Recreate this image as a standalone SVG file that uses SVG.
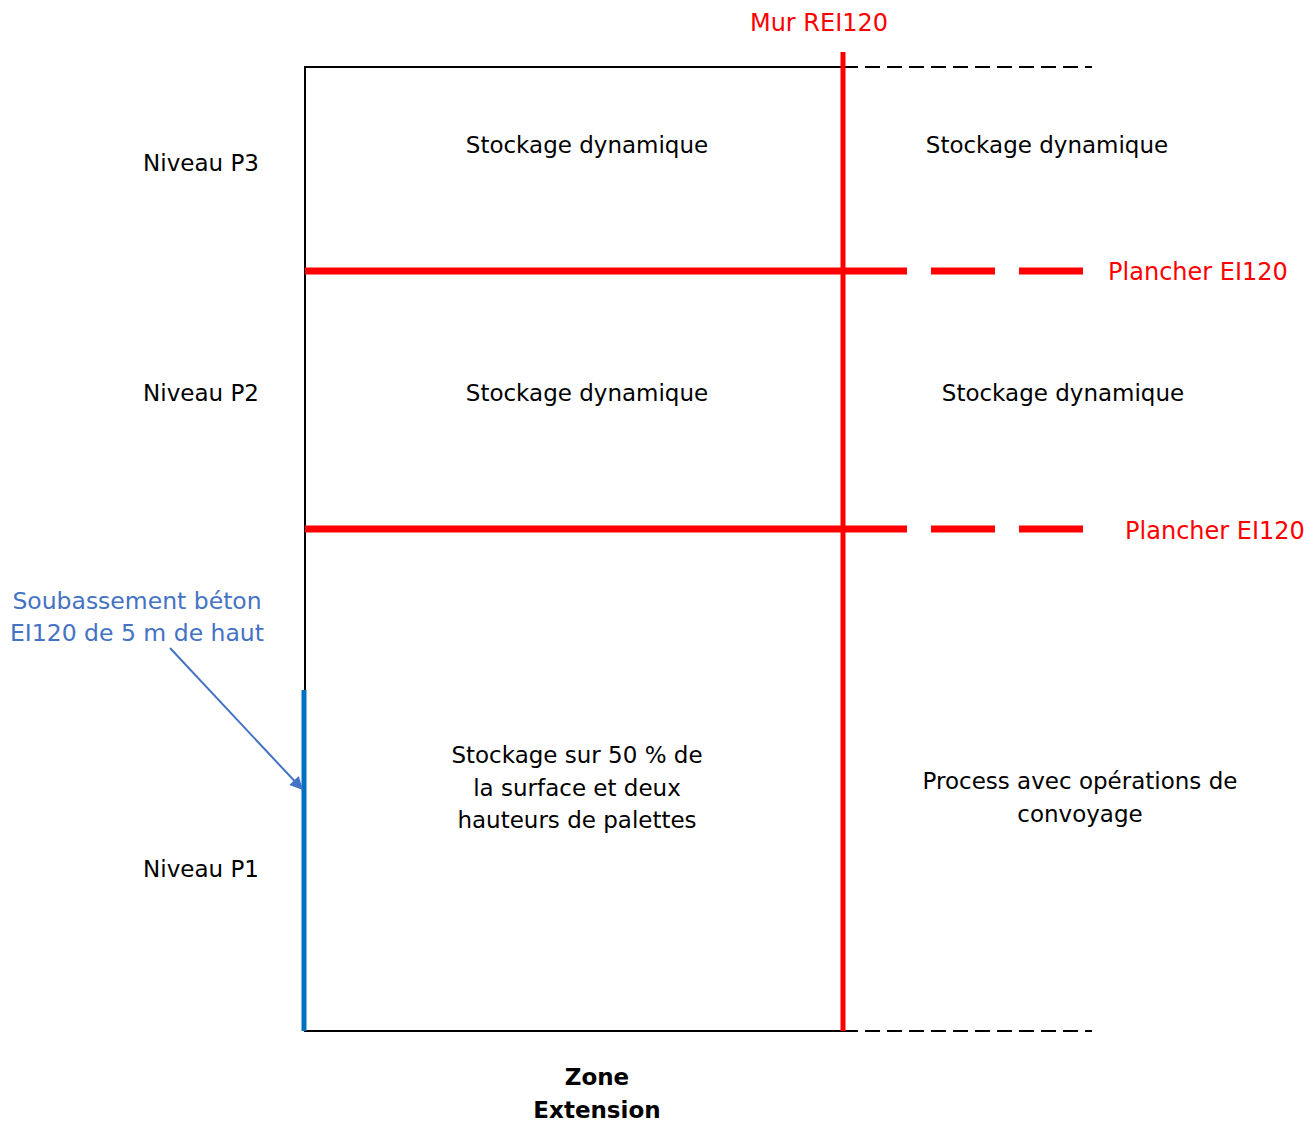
<svg xmlns="http://www.w3.org/2000/svg" width="1312" height="1122" viewBox="0 0 1312 1122">
<style>
text{font-family:"DejaVu Sans","Verdana",sans-serif;font-size:23px;fill:#000;text-anchor:middle}
.red{fill:#ff0000}
.blue{fill:#4472c4}
.bold{font-weight:bold}
.blk{stroke:#000;stroke-width:2;fill:none}
.dash{stroke:#000;stroke-width:2;stroke-dasharray:15 7;fill:none}
.floor{stroke:#ff0000;stroke-width:7;fill:none}
</style>
<defs>
<marker id="ah" viewBox="0 0 10 10" refX="9" refY="5" markerWidth="7.5" markerHeight="6.5" orient="auto" markerUnits="strokeWidth">
<path d="M0,0 L10,5 L0,10 z" fill="#4472c4"/>
</marker>
</defs>
<rect width="1312" height="1122" fill="#fff"/>
<g id="connectors">
<line class="blk" x1="305" y1="67" x2="843" y2="67"/>
<line class="dash" x1="843" y1="67" x2="1092" y2="67"/>
<line class="blk" x1="305" y1="1031" x2="843" y2="1031"/>
<line class="dash" x1="843" y1="1031" x2="1092" y2="1031"/>
<line class="blk" x1="305" y1="66" x2="305" y2="1032"/>
<line x1="304" y1="690" x2="304" y2="1031" stroke="#0070c0" stroke-width="5"/>
<line class="floor" x1="305" y1="271" x2="907" y2="271"/>
<line class="floor" x1="931" y1="271" x2="995" y2="271"/>
<line class="floor" x1="1019" y1="271" x2="1083" y2="271"/>
<line class="floor" x1="305" y1="529" x2="907" y2="529"/>
<line class="floor" x1="931" y1="529" x2="995" y2="529"/>
<line class="floor" x1="1019" y1="529" x2="1083" y2="529"/>
<line x1="843" y1="52" x2="843" y2="1031" stroke="#ff0000" stroke-width="5"/>
<line x1="170" y1="648" x2="302" y2="789" stroke="#4472c4" stroke-width="2" marker-end="url(#ah)"/>
</g>
<g id="label-mur"><text class="red" x="819" y="31" style="font-size:24px">Mur REI120</text></g>
<g id="label-plancher1"><text class="red" x="1198" y="280" style="font-size:24px">Plancher EI120</text></g>
<g id="label-plancher2"><text class="red" x="1215" y="539" style="font-size:24px">Plancher EI120</text></g>
<g id="niveau-p3"><text x="201" y="171">Niveau P3</text></g>
<g id="niveau-p2"><text x="201" y="401">Niveau P2</text></g>
<g id="niveau-p1"><text x="201" y="877">Niveau P1</text></g>
<g id="p3-left"><text x="587" y="153">Stockage dynamique</text></g>
<g id="p3-right"><text x="1047" y="153">Stockage dynamique</text></g>
<g id="p2-left"><text x="587" y="401">Stockage dynamique</text></g>
<g id="p2-right"><text x="1063" y="401">Stockage dynamique</text></g>
<g id="p1-left">
<text x="577" y="763">Stockage sur 50 % de</text>
<text x="577" y="796">la surface et deux</text>
<text x="577" y="828">hauteurs de palettes</text>
</g>
<g id="p1-right">
<text x="1080" y="789">Process avec opérations de</text>
<text x="1080" y="822">convoyage</text>
</g>
<g id="soubassement">
<text class="blue" x="137" y="609" style="font-size:23.5px">Soubassement béton</text>
<text class="blue" x="137" y="641" style="font-size:23.5px">EI120 de 5 m de haut</text>
</g>
<g id="zone">
<text class="bold" x="597" y="1085">Zone</text>
<text class="bold" x="597" y="1118">Extension</text>
</g>
</svg>
